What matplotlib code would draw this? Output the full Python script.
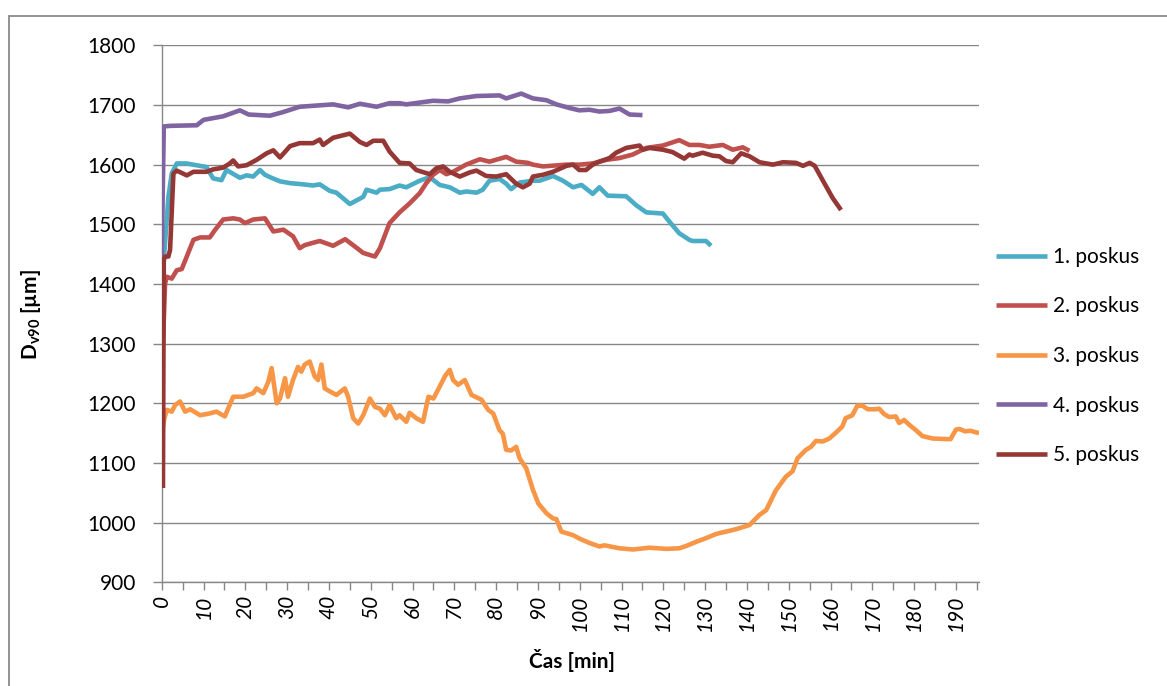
import matplotlib
matplotlib.use("Agg")
import matplotlib.pyplot as plt
from matplotlib.patches import Rectangle
from matplotlib.ticker import FixedLocator

plt.rcParams['font.family'] = ['Lato', 'DejaVu Sans']
plt.rcParams['mathtext.fontset'] = 'custom'
plt.rcParams['mathtext.rm'] = 'Lato'
plt.rcParams['mathtext.it'] = 'Lato:italic'
plt.rcParams['mathtext.bf'] = 'Lato:bold'

# ---- measured D_v90 particle size over time, five runs ----
t1 = [0.3, 1.6, 2.4, 3.6, 5.9, 8.3, 10.7, 12.3, 14.3, 15.5, 18.7, 20.3, 21.9, 23.5, 24.7, 25.9,
      28.3, 30.7, 33.8, 36.2, 37.8, 40.2, 41.8, 45.0, 48.2, 49.0, 51.4, 52.2, 54.5, 56.9, 58.5,
      61.7, 64.1, 66.5, 68.9, 71.3, 72.9, 75.3, 76.8, 78.4, 80.8, 82.4, 83.6, 85.6, 88.8, 90.4,
      93.6, 96.0, 98.4, 100.4, 103.1, 104.7, 106.7, 111.1, 113.5, 115.9, 119.9, 121.5, 123.8,
      126.2, 127.0, 130.2, 131.4]
d1 = [1420, 1546, 1585, 1602, 1602, 1599, 1596, 1577, 1574, 1591, 1578, 1582, 1580, 1591, 1583, 1579,
      1572, 1569, 1567, 1565, 1567, 1556, 1553, 1534, 1546, 1558, 1553, 1558, 1559, 1565, 1562,
      1573, 1579, 1566, 1562, 1553, 1555, 1553, 1558, 1573, 1576, 1568, 1559, 1570, 1573, 1573,
      1581, 1573, 1562, 1566, 1551, 1562, 1548, 1547, 1532, 1520, 1518, 1504, 1485,
      1474, 1472, 1472, 1464]

t2 = [0.3, 0.8, 1.2, 2.4, 3.6, 4.8, 6.0, 7.6, 9.2, 11.5, 12.7, 14.7, 17.1, 18.7, 19.9, 21.9,
      24.7, 26.7, 29.1, 31.4, 33.0, 34.2, 36.2, 37.8, 41.0, 43.9, 45.8, 48.2, 51.0, 52.2, 54.5,
      56.9, 59.3, 61.7, 63.3, 64.9, 66.5, 68.1, 69.7, 72.8, 76.1, 78.4, 82.4, 84.8, 87.6, 88.8,
      91.2, 96.8, 100.0, 103.1, 106.3, 109.5, 112.7, 115.9, 119.9, 123.8, 126.2, 128.6, 131.0,
      134.2, 136.6, 139.0, 140.6]
d2 = [1300, 1400, 1412, 1409, 1423, 1425, 1446, 1474, 1478, 1478, 1490, 1508, 1510, 1508, 1502, 1508,
      1510, 1488, 1491, 1480, 1460, 1465, 1469, 1472, 1464, 1475, 1465, 1452, 1446, 1460, 1502,
      1520, 1535, 1552, 1569, 1583, 1591, 1584, 1588, 1600, 1609, 1605, 1613, 1605, 1603, 1600,
      1597, 1600, 1600, 1602, 1608, 1611, 1617, 1628, 1632, 1641, 1633, 1633, 1630,
      1633, 1625, 1629, 1623]

t3 = [0.3, 0.55, 1.2, 2.4, 3.2, 4.4, 5.6, 6.8, 9.2, 11.5, 13.1, 15.1, 17.1, 19.5, 21.9, 22.7, 24.3,
      25.5, 26.3, 27.5, 28.3, 29.5, 30.2, 31.4, 32.6, 33.4, 34.2, 35.4, 36.6, 37.4, 38.2, 39.0,
      40.2, 41.8, 43.8, 44.6, 45.8, 47.0, 48.2, 49.8, 51.0, 52.2, 53.4, 54.5, 56.1, 56.9, 58.5,
      59.3, 60.9, 62.5, 63.8, 65.0, 66.5, 67.8, 68.9, 69.7, 70.9, 72.5, 74.1, 76.5, 78.1, 79.3,
      80.8, 81.6, 82.4, 83.6, 84.8, 85.6, 87.2, 88.8, 90.1, 92.0, 93.6, 94.4, 95.6, 98.4, 100.0,
      102.3, 104.7, 105.9, 109.5, 112.7, 116.7, 120.7, 123.8, 125.5, 127.9, 130.2, 132.6, 135.0,
      137.4, 140.6, 143.0, 144.6, 146.9, 149.3, 150.9, 152.1, 154.1, 155.3, 156.5, 158.1, 159.7,
      161.3, 162.8, 163.6, 165.2, 166.4, 167.6, 168.9, 170.8, 171.6, 172.8, 174.0, 175.6, 176.4,
      177.6, 178.8, 180.4, 182.0, 184.4, 187.6, 188.7, 190.0, 190.8, 192.2, 193.4, 195.5]
d3 = [1160, 1172, 1189, 1186, 1197, 1203, 1186, 1190, 1180, 1183, 1186, 1178, 1211, 1211, 1217, 1225, 1217,
      1236, 1259, 1200, 1208, 1242, 1211, 1239, 1261, 1253, 1265, 1270, 1245, 1239, 1265, 1225,
      1220, 1214, 1225, 1211, 1175, 1166, 1180, 1208, 1194, 1191, 1180, 1197, 1175, 1180, 1169,
      1184, 1175, 1169, 1211, 1208, 1228, 1246, 1256, 1239, 1231, 1239, 1214, 1206, 1189, 1183,
      1155, 1149, 1122, 1121, 1127, 1108, 1091, 1055, 1032, 1016, 1007, 1006, 985, 979, 973,
      966, 960, 962, 957, 955, 958, 956, 957, 961, 968, 974, 981, 985,
      989, 996, 1013, 1021, 1054, 1077, 1086, 1108, 1122, 1127, 1137, 1136, 1141,
      1151, 1161, 1175, 1180, 1196, 1196, 1190, 1190, 1191, 1182, 1177, 1178, 1167,
      1172, 1164, 1155, 1145, 1141, 1140, 1140, 1156, 1157, 1153, 1154, 1150]

t4 = [0.0, 0.5, 2.0, 8.4, 10.0, 14.7, 18.7, 20.8, 25.9, 29.0, 33.0, 37.0, 41.0, 44.6, 47.4, 51.4,
      54.5, 56.9, 58.5, 64.9, 68.5, 71.3, 75.3, 80.8, 82.4, 86.0, 88.8, 92.0, 94.4, 97.5, 99.9,
      102.3, 104.7, 107.1, 109.5, 111.9, 115.0]
d4 = [1440, 1664, 1665, 1666, 1675, 1681, 1691, 1684, 1682, 1688, 1697, 1699, 1701, 1696, 1702, 1697,
      1703, 1703, 1701, 1707, 1706, 1711, 1715, 1716, 1711, 1719, 1711, 1708, 1701, 1695, 1691,
      1692, 1689, 1690, 1694, 1684, 1683]

t5 = [0.3, 0.5, 0.8, 1.6, 2.0, 2.8, 3.6, 6.0, 7.6, 10.7, 12.3, 14.7, 16.3, 17.1, 18.3, 20.3, 22.7,
      25.1, 26.7, 28.3, 30.7, 33.0, 36.2, 37.8, 38.6, 41.0, 45.0, 47.4, 49.0, 50.6, 53.0, 54.5,
      56.9, 59.3, 60.9, 64.1, 65.7, 67.3, 68.9, 71.3, 73.7, 75.3, 77.6, 80.0, 82.4, 84.8, 86.4,
      88.0, 88.8, 91.2, 93.6, 96.8, 98.4, 99.9, 101.5, 103.1, 104.7, 107.1, 108.7, 111.1, 114.3,
      115.1, 116.7, 119.9, 122.2, 125.0, 126.2, 127.0, 129.4, 131.8, 133.4, 135.0, 136.6, 138.6,
      140.6, 143.0, 146.2, 148.6, 151.7, 153.4, 155.0, 156.2, 158.1, 160.5, 162.5]
d5 = [1058, 1440, 1446, 1446, 1457, 1585, 1590, 1582, 1588, 1588, 1592, 1595, 1602, 1607, 1597, 1599, 1608,
      1619, 1624, 1612, 1631, 1636, 1636, 1642, 1633, 1645, 1652, 1638, 1633, 1640, 1640, 1622,
      1603, 1602, 1591, 1584, 1594, 1597, 1588, 1580, 1587, 1590, 1581, 1580, 1584, 1568, 1562,
      1568, 1580, 1583, 1588, 1598, 1600, 1591, 1591, 1600, 1605, 1611, 1620, 1628, 1632,
      1625, 1628, 1625, 1621, 1610, 1617, 1615, 1620, 1615, 1614, 1606, 1604, 1619,
      1614, 1604, 1600, 1604, 1603, 1598, 1603, 1598, 1574, 1544, 1524]

labels = ["1. poskus", "2. poskus", "3. poskus", "4. poskus", "5. poskus"]
colors = ["#4BACC6", "#C0504D", "#F79646", "#8064A2", "#953735"]
x_ticks = list(range(0, 191, 10))
y_ticks = list(range(900, 1801, 100))

W, H = 1167, 686
fig = plt.figure(figsize=(W / 100, H / 100), dpi=100)
fig.patch.set_facecolor("white")

ax = fig.add_axes([161.7 / W, 1 - 582.3 / H, (979 - 161.7) / W, (582.3 - 45.3) / H])

grid_c = "#878787"
series = [(t1, d1), (t2, d2), (t3, d3), (t4, d4), (t5, d5)]
for (t, d), lab, c in zip(series, labels, colors):
    ax.plot(t, d, color=c, lw=3.3, label=lab, solid_joinstyle="round",
            solid_capstyle="butt", zorder=3)

ax.set_xlim(0, 195.5)
ax.set_ylim(900, 1800)
ax.yaxis.set_major_locator(FixedLocator(y_ticks))
ax.xaxis.set_major_locator(FixedLocator(x_ticks))
ax.xaxis.set_minor_locator(FixedLocator([v + 5 for v in x_ticks]))
ax.set_xticklabels([str(v) for v in x_ticks], rotation=90, fontsize=15,
                   fontstyle="italic", va="top", ha="center")
ax.set_yticklabels([str(v) for v in y_ticks], fontsize=15)

ax.grid(axis="y", color=grid_c, lw=1.0, zorder=1)
for s in ("top", "right"):
    ax.spines[s].set_visible(False)
for s in ("left", "bottom"):
    ax.spines[s].set_color(grid_c)
    ax.spines[s].set_linewidth(1.0)
ax.tick_params(axis="y", direction="out", length=6.5, width=1.0, color=grid_c, pad=12)
ax.tick_params(axis="x", which="both", direction="out", length=6, width=1.0,
               color=grid_c, pad=3)

fig.text(572 / W, 1 - 660 / H, "Čas [min]", fontsize=15, fontweight="bold",
         ha="center", va="center")
fig.text(31 / W, 1 - 315 / H, r"D$_\mathbf{v90}$ [µm]", fontsize=15, fontweight="bold",
         rotation=90, ha="center", va="center")

ax.legend(loc="center left", bbox_to_anchor=(996 / W, 1 - 356 / H),
          bbox_transform=fig.transFigure, frameon=False, fontsize=15,
          handlelength=2.45, handletextpad=0.3, labelspacing=1.42,
          borderpad=0, borderaxespad=0)

# outer chart frame
fig.add_artist(Rectangle((8.5 / W, -0.2), 1.2, 1.2 - 15.5 / H,
                         transform=fig.transFigure, fill=False,
                         edgecolor="#8a8a8a", lw=1.3, clip_on=False))

fig.savefig("out.png", dpi=100, facecolor="white")
